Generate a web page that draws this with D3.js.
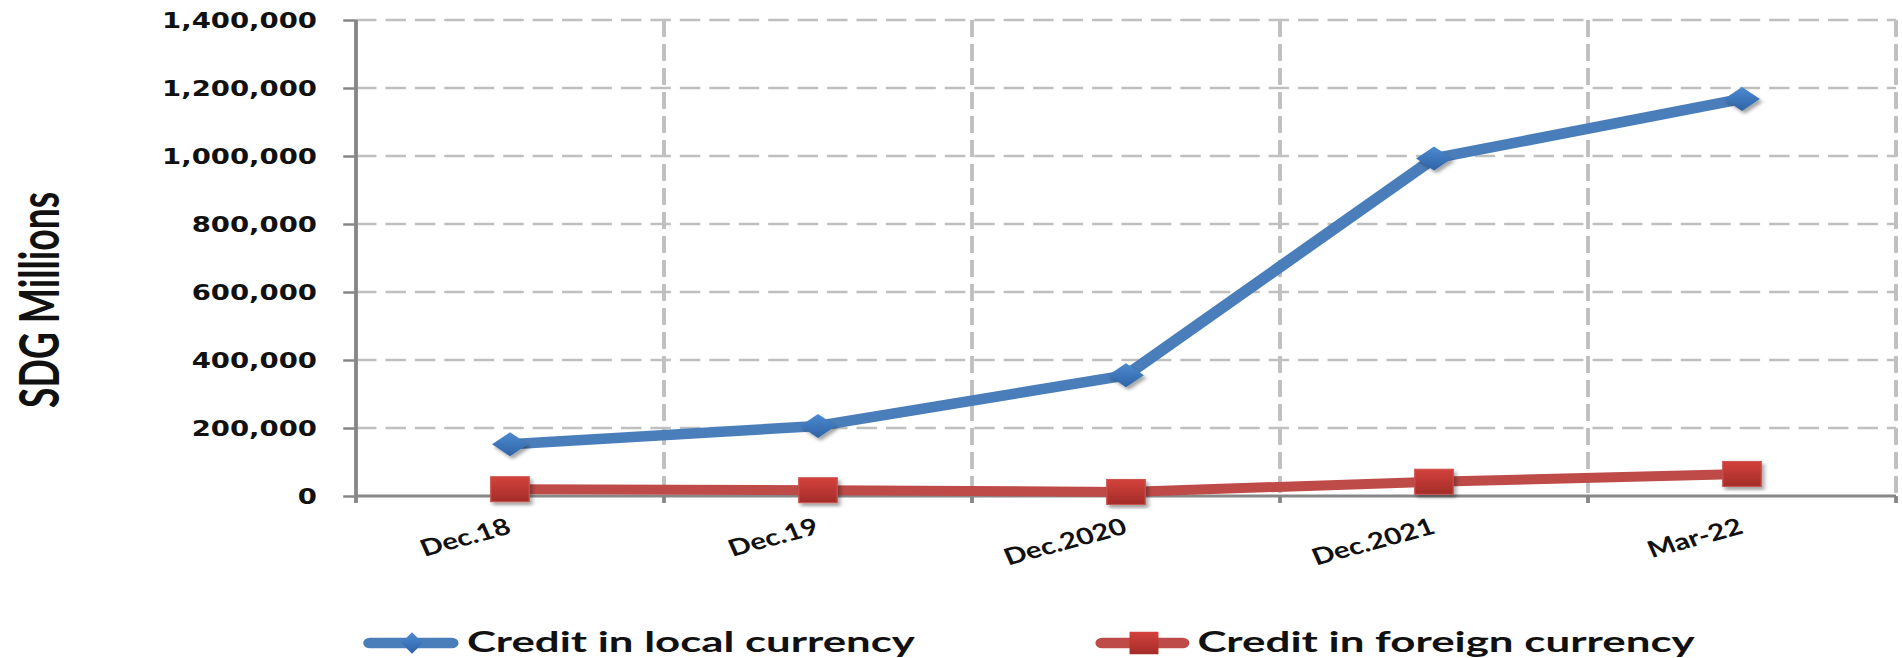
<!DOCTYPE html>
<html>
<head>
<meta charset="utf-8">
<script src="https://cdn.jsdelivr.net/npm/d3@7"></script>
<style>
  html, body { margin: 0; padding: 0; background: #fff; }
  svg { display: block; }
</style>
</head>
<body>
<script>
// chart values
const categories = ["Dec.18", "Dec.19", "Dec.2020", "Dec.2021", "Mar-22"];
const localCredit = [152000, 206000, 355000, 993000, 1168000];
const foreignCredit = [20000, 17000, 12000, 42000, 65000];
const yTicks = [0, 200000, 400000, 600000, 800000, 1000000, 1200000, 1400000];
const seriesNames = ["Credit in local currency", "Credit in foreign currency"];

const width = 1902, height = 658;
const sx = 1.28; // the original picture is stretched sideways
const blue = "#4A7EBB", red = "#BE4B48";
const gridColor = "#BFBFBF", axisColor = "#878787";

const svg = d3.select("body").append("svg")
    .attr("width", width)
    .attr("height", height);

svg.append("rect").attr("width", width).attr("height", height).attr("fill", "#fff");

const defs = svg.append("defs");
const shadow = defs.append("filter").attr("id", "shadow")
    .attr("x", "-50%").attr("y", "-50%").attr("width", "200%").attr("height", "200%");
shadow.append("feDropShadow")
    .attr("dx", 2).attr("dy", 3).attr("stdDeviation", 1.6)
    .attr("flood-color", "#000").attr("flood-opacity", 0.35);

function gradient(id, c1, c2) {
    const gr = defs.append("linearGradient").attr("id", id)
        .attr("x1", 0).attr("y1", 0).attr("x2", 0).attr("y2", 1);
    gr.append("stop").attr("offset", "0%").attr("stop-color", c1);
    gr.append("stop").attr("offset", "100%").attr("stop-color", c2);
}
gradient("blueGrad", "#4D8AD0", "#2F63A6");
gradient("redGrad", "#D4423C", "#A32C29");

// everything drawn in "inner" coords, then stretched by sx
const g = svg.append("g").attr("transform", `scale(${sx},1)`);

const plotLeft = 356 / sx, plotRight = 1896 / sx;
const plotTop = 20, plotBottom = 496;

const x = d3.scaleBand().domain(categories).range([plotLeft, plotRight]).padding(0);
const cx = d => x(d) + x.bandwidth() / 2;
const y = d3.scaleLinear().domain([0, 1400000]).range([plotBottom, plotTop]);

// horizontal grid
g.append("g").selectAll("line")
    .data(yTicks.filter(v => v > 0))
    .join("line")
    .attr("x1", plotLeft).attr("x2", plotRight)
    .attr("y1", d => y(d)).attr("y2", d => y(d))
    .attr("stroke", gridColor).attr("stroke-width", 2.6)
    .attr("stroke-dasharray", "16,7");

// vertical grid at category boundaries
g.append("g").selectAll("line")
    .data(categories)
    .join("line")
    .attr("x1", d => x(d) + x.bandwidth()).attr("x2", d => x(d) + x.bandwidth())
    .attr("y1", plotTop).attr("y2", plotBottom)
    .attr("stroke", gridColor).attr("stroke-width", 3)
    .attr("stroke-dasharray", "17,7");

// y axis
const yAxis = g.append("g")
    .attr("transform", `translate(${plotLeft},0)`)
    .call(d3.axisLeft(y).tickValues(yTicks).tickFormat(d3.format(","))
        .tickSize(10).tickSizeOuter(0).tickPadding(20.5));
yAxis.select(".domain").remove();
yAxis.selectAll(".tick line").attr("stroke", axisColor).attr("stroke-width", 2.5);
yAxis.selectAll(".tick text")
    .attr("font-family", "'DejaVu Sans', Verdana, sans-serif")
    .attr("font-weight", "bold")
    .attr("font-size", 21.5)
    .attr("fill", "#111")
    .attr("dy", "0.36em");

// x axis line and ticks
g.append("line")
    .attr("x1", plotLeft).attr("x2", plotRight)
    .attr("y1", plotBottom).attr("y2", plotBottom)
    .attr("stroke", axisColor).attr("stroke-width", 3);
g.append("line")
    .attr("x1", plotLeft).attr("x2", plotLeft)
    .attr("y1", plotTop).attr("y2", plotBottom + 7)
    .attr("stroke", axisColor).attr("stroke-width", 3);
g.append("g").selectAll("line")
    .data(categories)
    .join("line")
    .attr("x1", d => x(d) + x.bandwidth()).attr("x2", d => x(d) + x.bandwidth())
    .attr("y1", plotBottom).attr("y2", plotBottom + 7)
    .attr("stroke", axisColor).attr("stroke-width", 3);

// x labels, rotated
g.append("g").selectAll("text")
    .data(categories)
    .join("text")
    .attr("transform", d => `translate(${cx(d) + 2},${533}) rotate(-19)`)
    .attr("text-anchor", "end")
    .attr("font-family", "Lato, 'Open Sans', sans-serif")
    .attr("font-weight", "bold")
    .attr("font-size", 23)
    .attr("fill", "#111")
    .text(d => d);

// y title
g.append("text")
    .attr("transform", `translate(${59 / sx},${300}) rotate(-90)`)
    .attr("text-anchor", "middle")
    .attr("font-family", "Lato, 'Open Sans', sans-serif")
    .attr("font-weight", "bold")
    .attr("font-size", 43)
    .attr("textLength", 216).attr("lengthAdjust", "spacingAndGlyphs")
    .attr("fill", "#111")
    .text("SDG Millions");

// lines
const line = d3.line().x((d, i) => cx(categories[i])).y(d => y(d));

g.append("path").datum(foreignCredit)
    .attr("d", line)
    .attr("fill", "none").attr("stroke", red)
    .attr("stroke-width", 10).attr("stroke-linejoin", "round");

g.append("path").datum(localCredit)
    .attr("d", line)
    .attr("fill", "none").attr("stroke", blue)
    .attr("stroke-width", 10.5).attr("stroke-linejoin", "round");

// markers
function diamond(w, h) {
    return `M0,${-h}L${w},0L0,${h}L${-w},0Z`;
}

g.append("g").selectAll("path")
    .data(localCredit)
    .join("path")
    .attr("transform", (d, i) => `translate(${cx(categories[i])},${y(d)})`)
    .attr("d", diamond(14, 12))
    .attr("fill", "url(#blueGrad)")
    .attr("filter", "url(#shadow)");

g.append("g").selectAll("rect")
    .data(foreignCredit)
    .join("rect")
    .attr("x", (d, i) => cx(categories[i]) - 15)
    .attr("y", d => y(d) - 12.5)
    .attr("width", 30).attr("height", 25)
    .attr("fill", "url(#redGrad)")
    .attr("stroke", "#C9504C").attr("stroke-width", 1)
    .attr("filter", "url(#shadow)");

// legend
const legendY = 643;
const legend = g.append("g");

legend.append("line")
    .attr("x1", 289).attr("x2", 353).attr("y1", legendY).attr("y2", legendY)
    .attr("stroke", blue).attr("stroke-width", 10.5).attr("stroke-linecap", "round");
legend.append("path")
    .attr("transform", `translate(321.9,${legendY})`)
    .attr("d", diamond(8.4, 10.7))
    .attr("fill", "url(#blueGrad)");
legend.append("text")
    .attr("x", 364.8).attr("y", 652)
    .attr("textLength", 350).attr("lengthAdjust", "spacingAndGlyphs")
    .attr("font-family", "Lato, 'Open Sans', sans-serif")
    .attr("font-weight", "bold").attr("font-size", 28).attr("fill", "#111")
    .text(seriesNames[0]);

legend.append("line")
    .attr("x1", 861).attr("x2", 924).attr("y1", legendY).attr("y2", legendY)
    .attr("stroke", red).attr("stroke-width", 10.5).attr("stroke-linecap", "round");
legend.append("rect")
    .attr("x", 893.75 - 11.3).attr("y", legendY - 11.25)
    .attr("width", 22.6).attr("height", 22.5)
    .attr("fill", "url(#redGrad)");
legend.append("text")
    .attr("x", 935.5).attr("y", 652)
    .attr("textLength", 388.5).attr("lengthAdjust", "spacingAndGlyphs")
    .attr("font-family", "Lato, 'Open Sans', sans-serif")
    .attr("font-weight", "bold").attr("font-size", 28).attr("fill", "#111")
    .text(seriesNames[1]);
</script>
</body>
</html>
